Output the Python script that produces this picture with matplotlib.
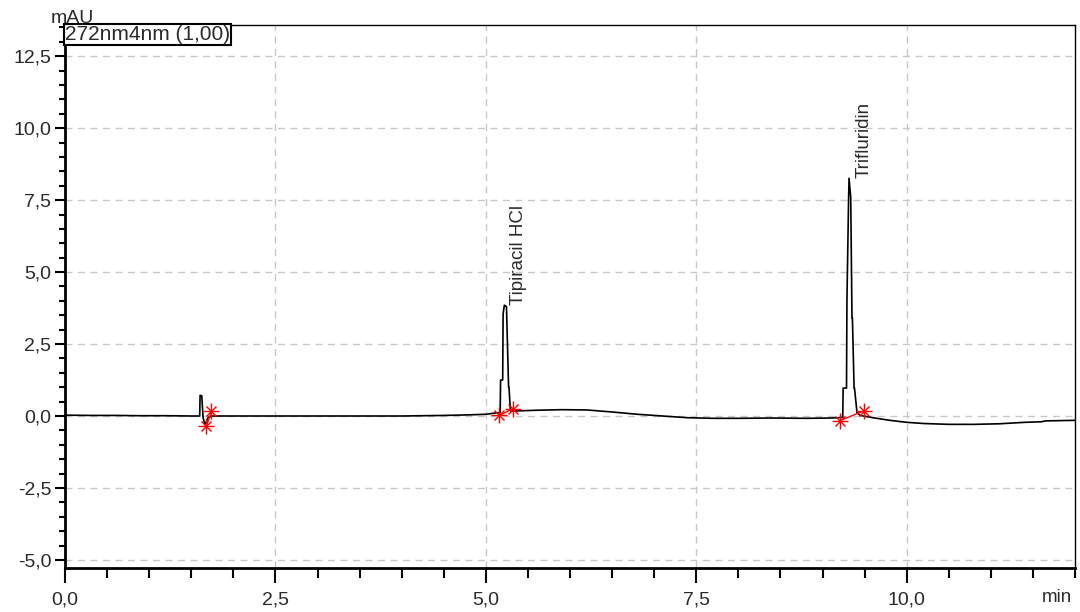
import matplotlib
matplotlib.use("Agg")
import matplotlib.pyplot as plt
from matplotlib.ticker import MultipleLocator, FuncFormatter

plt.rcParams['font.family'] = ['Liberation Sans', 'DejaVu Sans']

# Chromatogram trace at 272 nm (time in min, absorbance in mAU)
time_min = [0.00, 0.30, 0.60, 0.90, 1.20, 1.50, 1.600, 1.605, 1.625, 1.640, 1.660, 1.680,
            1.700, 1.750, 1.90, 2.20, 2.60, 3.00, 3.50, 4.00, 4.50, 4.80, 5.00, 5.10,
            5.17, 5.175, 5.20, 5.205, 5.22, 5.245, 5.27, 5.275, 5.29, 5.295, 5.32, 5.40,
            5.60, 5.90, 6.20, 6.50, 6.80, 7.10, 7.40, 7.70, 8.00, 8.40, 8.80, 9.10,
            9.24, 9.245, 9.285, 9.29, 9.31, 9.315, 9.335, 9.35, 9.355, 9.375, 9.38,
            9.41, 9.415, 9.45, 9.60, 9.80, 10.00, 10.20, 10.50, 10.80, 11.10, 11.40,
            11.60, 11.65, 12.00]
signal_mau = [0.03, 0.02, 0.02, 0.01, 0.01, 0.00, 0.00, 0.72, 0.70, -0.05, -0.28, -0.20,
              -0.05, 0.00, 0.00, 0.00, 0.00, 0.00, 0.00, 0.00, 0.02, 0.04, 0.06, 0.10,
              0.12, 1.25, 1.25, 3.55, 3.85, 3.80, 1.00, 1.00, 0.25, 0.18, 0.17, 0.18,
              0.20, 0.22, 0.21, 0.14, 0.06, 0.00, -0.06, -0.08, -0.08, -0.07, -0.08, -0.07,
              -0.05, 0.97, 0.97, 4.00, 7.60, 8.26, 7.60, 3.40, 3.40, 0.97, 0.97,
              0.10, 0.10, 0.02, -0.06, -0.15, -0.22, -0.26, -0.29, -0.29, -0.27, -0.22,
              -0.20, -0.17, -0.15]

# Integration start/end points: (time, signal)
peak_starts = [(1.68, -0.35), (5.16, 0.02), (9.21, -0.16)]
peak_ends = [(1.74, 0.18), (5.32, 0.25), (9.49, 0.18)]

# Peak names and apex positions
peak_names = ["Tipiracil HCl", "Trifluridin"]
peak_times = [5.225, 9.335]
peak_heights = [3.85, 8.26]

TEXT = '#2a2a2a'

fig = plt.figure(figsize=(10.8, 6.12), dpi=100)
ax = fig.add_axes([0.0602, 0.0719, 0.9352, 0.8871])

ax.plot(time_min, signal_mau, color='black', lw=1.2, zorder=3)

for (t0, y0), (t1, y1) in zip(peak_starts, peak_ends):
    ax.plot([t0, t1], [y0, y1], color='red', lw=1.0, zorder=4)
    for t, y in ((t0, y0), (t1, y1)):
        ax.plot(t, y, marker='+', ms=11, mew=1.0, color='red', zorder=5)
        ax.plot(t, y, marker='x', ms=7, mew=1.0, color='red', zorder=5)

for name, t, h in zip(peak_names, peak_times, peak_heights):
    ax.text(t + 0.06, h + 0.02, name, rotation=90, ha='left', va='bottom',
            fontsize=13.5, color=TEXT)

ax.set_xlim(0, 12.0)
ax.set_ylim(-5.28, 13.58)

ax.xaxis.set_major_locator(MultipleLocator(2.5))
ax.xaxis.set_minor_locator(MultipleLocator(0.5))
ax.yaxis.set_major_locator(MultipleLocator(2.5))
ax.yaxis.set_minor_locator(MultipleLocator(0.5))

comma = FuncFormatter(lambda v, p: f"{v:.1f}".replace('.', ','))
ax.xaxis.set_major_formatter(comma)
ax.yaxis.set_major_formatter(comma)

ax.tick_params(axis='both', which='major', labelsize=14, colors='black',
               labelcolor=TEXT)
ax.tick_params(axis='y', which='major', length=7, width=1.5, pad=3)
ax.tick_params(axis='y', which='minor', length=4, width=1.5)
ax.tick_params(axis='x', which='major', length=11, width=1.5, pad=6)
ax.tick_params(axis='x', which='minor', length=7, width=1.5)
ax.tick_params(top=False, right=False, which='both')

ax.grid(True, which='major', color='#c8c8c8', ls=(0, (5, 4)), lw=1.0)
ax.set_axisbelow(True)

ax.spines['left'].set_linewidth(2.0)
ax.spines['bottom'].set_linewidth(2.0)
ax.spines['right'].set_linewidth(1.0)
ax.spines['top'].set_linewidth(1.0)

fig.text(51 / 1080, 1 - 23 / 612, "mAU", fontsize=14, color=TEXT,
         ha='left', va='baseline')
fig.text(1072 / 1080, 1 - 602 / 612, "min", fontsize=13.5, color=TEXT,
         ha='right', va='baseline')

ax.text(0.0, 1.0, "272nm4nm (1,00)", transform=ax.transAxes, fontsize=15,
        color=TEXT, ha='left', va='top', zorder=6,
        bbox=dict(boxstyle='square,pad=0.05', fc='white', ec='black', lw=1.5))

fig.savefig("out.png", dpi=100)
